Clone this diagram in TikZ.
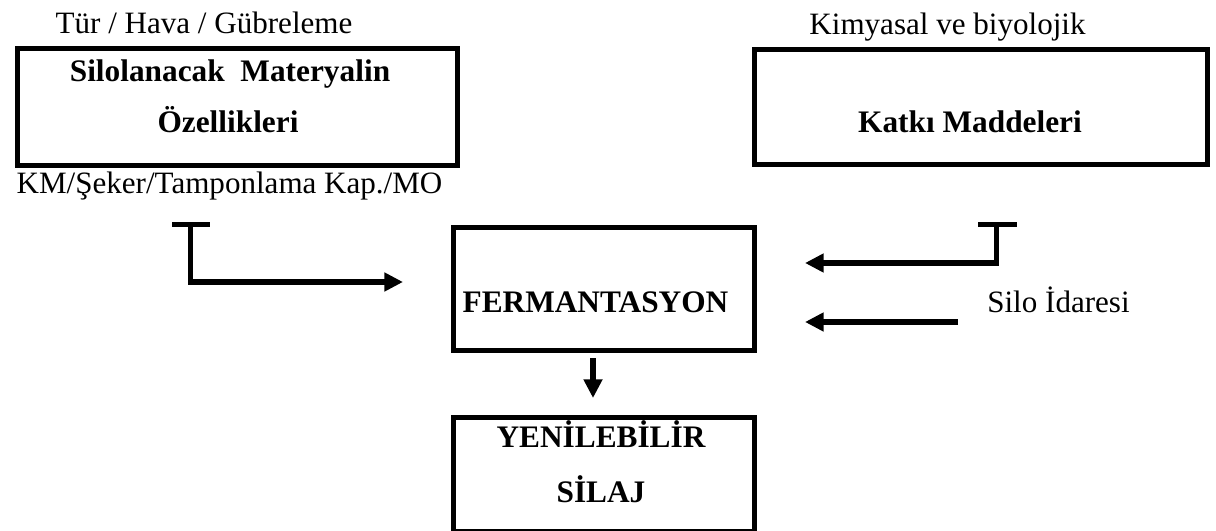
\documentclass[tikz,border=0pt]{standalone}
\usepackage{fontspec}
\setmainfont{Liberation Serif}[BoldFont={Liberation Serif Bold}]
\usetikzlibrary{arrows.meta}
\begin{document}
\begin{tikzpicture}[x=0.75pt,y=-0.75pt,
  box/.style={draw=black,line width=3.8pt,inner sep=0pt,anchor=north west},
  txt/.style={font=\fontsize{23.3pt}{28pt}\selectfont,anchor=base,inner sep=0pt},
  btxt/.style={font=\fontsize{23.5pt}{28pt}\selectfont\bfseries,anchor=base,inner sep=0pt},
  conn/.style={line width=3.8pt,line join=miter},
  arr/.style={conn,-{Triangle[length=14pt,width=13.5pt]}}]
\useasboundingbox (0,0) rectangle (1216,531);
% boxes
\node[box,minimum width=440.5*0.75pt,minimum height=117*0.75pt] (mat) at (14.5,46) {};
\node[box,minimum width=453*0.75pt,minimum height=115*0.75pt] (katki) at (752,47) {};
\node[box,minimum width=301*0.75pt,minimum height=123*0.75pt] (ferm) at (451,225) {};
\node[box,minimum width=301*0.75pt,minimum height=114*0.75pt] (silaj) at (451,414.5) {};
% texts in boxes
\node[btxt] (t1) at (230,82) {Silolanacak\ \ Materyalin};
\node[btxt] (t2) at (228,133) {Özellikleri};
\node[btxt] (t3) at (970,133) {Katkı Maddeleri};
\node[btxt] (t4) at (595.5,312) {FERMANTASYON};
\node[btxt] (t5) at (601,447) {YENİLEBİLİR};
\node[btxt] (t6) at (601,502) {SİLAJ};
% free labels
\node[txt] (l1) at (204,34) {Tür / Hava / Gübreleme};
\node[txt] (l2) at (947.5,35) {Kimyasal ve biyolojik};
\node[txt] (l3) at (229.5,193) {KM/Şeker/Tamponlama Kap./MO};
\node[txt] (l4) at (1058.5,312) {Silo İdaresi};
% connector coordinates
\coordinate (lbarL) at (172,224.5);
\coordinate (lbarR) at (210,224.5);
\coordinate (ltop) at (190.5,224.5);
\coordinate (lcorner) at (190.5,282);
\coordinate (ltip) at (403,282);
\coordinate (rbarL) at (978,224.5);
\coordinate (rbarR) at (1017,224.5);
\coordinate (rtop) at (996.5,224.5);
\coordinate (rcorner) at (996.5,263);
\coordinate (rtip) at (805,263);
\coordinate (sstart) at (958,322);
\coordinate (stip) at (805,322);
\coordinate (dstart) at (593,358);
\coordinate (dtip) at (593,398);
% connectors
\draw[conn] (lbarL) -- (lbarR);
\draw[arr] (ltop) -- (lcorner) -- (ltip);
\draw[conn] (rbarL) -- (rbarR);
\draw[arr] (rtop) -- (rcorner) -- (rtip);
\draw[arr] (sstart) -- (stip);
\draw[arr] (dstart) -- (dtip);
\end{tikzpicture}
\end{document}
